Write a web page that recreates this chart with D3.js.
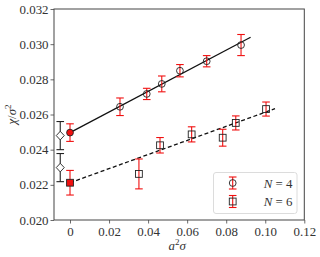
<!DOCTYPE html>
<html>
<head>
<meta charset="utf-8">
<script src="https://cdn.jsdelivr.net/npm/d3@7"></script>
<style>
  body { margin: 0; background: #fff; }
</style>
</head>
<body>
<div id="chart"></div>
<script>
// N = 4 measurements
var n4X = [0.0256, 0.0393, 0.0470, 0.0563, 0.0700, 0.0876];
var n4Y = [0.02644, 0.02717, 0.02774, 0.02849, 0.02903, 0.02995];
var n4Err = [0.00050, 0.00032, 0.00045, 0.00035, 0.00032, 0.00060];

// N = 6 measurements
var n6X = [0.0353, 0.0461, 0.0623, 0.0782, 0.0849, 0.1004];
var n6Y = [0.02262, 0.02425, 0.02487, 0.02468, 0.02552, 0.02631];
var n6Err = [0.00085, 0.00044, 0.00043, 0.00048, 0.00040, 0.00040];

// continuum extrapolations (a^2 sigma -> 0)
var extrapY = [0.02497, 0.02212];
var extrapErr = [0.00050, 0.00070];

// reference values (diamonds)
var refX = [-0.005, -0.005];
var refY = [0.02480, 0.02298];
var refErr = [0.00080, 0.00080];

// linear fits: [x start, x end, intercept, slope]
var fitN4 = [0, 0.0925, 0.02497, 0.0586];
var fitN6 = [0, 0.105, 0.02212, 0.0401];

var xTicks = [0, 0.02, 0.04, 0.06, 0.08, 0.10, 0.12];
var yTicks = [0.020, 0.022, 0.024, 0.026, 0.028, 0.030, 0.032];
var legendLabels = ["4", "6"];

var width = 320, height = 257;
var mLeft = 54, mRight = 304.3, mTop = 9, mBottom = 220;
var red = "#f01010";
var serif = "'Liberation Serif', 'DejaVu Serif', serif";

var x = d3.scaleLinear().domain([-0.0082, 0.12]).range([mLeft, mRight]);
var y = d3.scaleLinear().domain([0.020, 0.032]).range([mBottom, mTop]);

var svg = d3.select("#chart").append("svg")
    .attr("width", width)
    .attr("height", height)
    .style("font-family", serif);

// pick a font size so that "0.032" is about 29px wide, as in the original
var probe = svg.append("text").attr("font-size", 13).style("font-family", serif).text("0.032");
var fs = 13 * 29 / (probe.node().getComputedTextLength() || 29);
fs = Math.max(11, Math.min(14, fs));
probe.remove();

// axes
var xAxis = svg.append("g")
    .attr("transform", "translate(0," + mBottom + ")")
    .call(d3.axisBottom(x).tickValues(xTicks).tickSize(3.5).tickPadding(3)
      .tickFormat(function(d) { return d === 0 ? "0" : d3.format(".2f")(d); }));
var yAxis = svg.append("g")
    .attr("transform", "translate(" + mLeft + ",0)")
    .call(d3.axisLeft(y).tickValues(yTicks).tickSize(3.5).tickPadding(2)
      .tickFormat(d3.format(".3f")));
[xAxis, yAxis].forEach(function(a) {
  a.attr("font-family", null).attr("font-size", null);
  a.select(".domain").remove();
  a.selectAll("line").attr("stroke", "#444").attr("stroke-width", 0.8);
  a.selectAll("text").style("font-family", serif).attr("font-size", fs).attr("fill", "#333");
});

svg.append("rect")
    .attr("x", mLeft).attr("y", mTop)
    .attr("width", mRight - mLeft).attr("height", mBottom - mTop)
    .attr("fill", "none").attr("stroke", "#444").attr("stroke-width", 1);

// labels
var xl = svg.append("text")
    .attr("x", (mLeft + mRight) / 2 - 2).attr("y", 249.5)
    .attr("text-anchor", "middle").attr("font-size", fs).attr("fill", "#333")
    .style("font-family", serif).attr("font-style", "italic");
xl.append("tspan").text("a");
xl.append("tspan").attr("font-size", 9).attr("font-style", "normal").attr("dy", -5).text("2");
xl.append("tspan").attr("dy", 5).text("σ");

var yl = svg.append("text")
    .attr("transform", "translate(16," + ((mTop + mBottom) / 2) + ") rotate(-90)")
    .attr("text-anchor", "middle").attr("font-size", fs).attr("fill", "#333")
    .style("font-family", serif);
yl.append("tspan").attr("font-style", "italic").text("χ");
yl.append("tspan").text("/");
yl.append("tspan").attr("font-style", "italic").text("σ");
yl.append("tspan").attr("font-size", 9).attr("dy", -5).text("2");

// fit lines
var line = d3.line().x(function(d) { return x(d[0]); }).y(function(d) { return y(d[1]); });
[[fitN4, null], [fitN6, "4,2.5"]].forEach(function(f) {
  var p = f[0];
  svg.append("path")
      .attr("d", line([[p[0], p[2] + p[3] * p[0]], [p[1], p[2] + p[3] * p[1]]]))
      .attr("fill", "none").attr("stroke", "#111").attr("stroke-width", 1.3)
      .attr("stroke-dasharray", f[1]);
});

function errorBars(g, xs, ys, es, color) {
  var cap = 3.8;
  xs.forEach(function(xv, i) {
    var cx = x(xv), y0 = y(ys[i] - es[i]), y1 = y(ys[i] + es[i]);
    g.append("line").attr("x1", cx).attr("x2", cx).attr("y1", y0).attr("y2", y1)
      .attr("stroke", color).attr("stroke-width", 1.1);
    [y0, y1].forEach(function(yy) {
      g.append("line").attr("x1", cx - cap).attr("x2", cx + cap).attr("y1", yy).attr("y2", yy)
        .attr("stroke", color).attr("stroke-width", 1.1);
    });
  });
}

var g = svg.append("g");
errorBars(g, n4X, n4Y, n4Err, red);
errorBars(g, n6X, n6Y, n6Err, red);
errorBars(g, [0, 0], extrapY, extrapErr, red);
errorBars(g, refX, refY, refErr, "#222");

function circle(gg, cx, cy, fill) {
  gg.append("circle").attr("cx", cx).attr("cy", cy).attr("r", 3.4)
    .attr("fill", fill).attr("stroke", "#222").attr("stroke-width", 0.9);
}
function square(gg, cx, cy, fill) {
  gg.append("rect").attr("x", cx - 3.4).attr("y", cy - 3.4).attr("width", 6.8).attr("height", 6.8)
    .attr("fill", fill).attr("stroke", "#222").attr("stroke-width", 0.9);
}

n4X.forEach(function(xv, i) { circle(g, x(xv), y(n4Y[i]), "none"); });
n6X.forEach(function(xv, i) { square(g, x(xv), y(n6Y[i]), "none"); });
circle(g, x(0), y(extrapY[0]), red);
square(g, x(0), y(extrapY[1]), red);
refX.forEach(function(xv, i) {
  var cx = x(xv), cy = y(refY[i]);
  g.append("path")
    .attr("d", "M" + cx + "," + (cy - 4.3) + "L" + (cx + 4) + "," + cy + "L" + cx + "," + (cy + 4.3) + "L" + (cx - 4) + "," + cy + "Z")
    .attr("fill", "#fff").attr("stroke", "#222").attr("stroke-width", 0.9);
});

// legend
var lg = svg.append("g");
lg.append("rect").attr("x", 213.5).attr("y", 172.5).attr("width", 83.5).attr("height", 41)
  .attr("rx", 2.5).attr("fill", "#fff").attr("fill-opacity", 0.8)
  .attr("stroke", "#d8d8d8").attr("stroke-width", 0.9);
legendLabels.forEach(function(lab, i) {
  var cy = 183 + i * 18.5, cx = 232.7;
  lg.append("line").attr("x1", cx).attr("x2", cx).attr("y1", cy - 6).attr("y2", cy + 6)
    .attr("stroke", red).attr("stroke-width", 1.1);
  [cy - 6, cy + 6].forEach(function(yy) {
    lg.append("line").attr("x1", cx - 3.8).attr("x2", cx + 3.8).attr("y1", yy).attr("y2", yy)
      .attr("stroke", red).attr("stroke-width", 1.1);
  });
  if (i === 0) circle(lg, cx, cy, "none"); else square(lg, cx, cy, "none");
  var t = lg.append("text").attr("x", 292.5).attr("y", cy + 4.5)
    .attr("text-anchor", "end").attr("font-size", fs).attr("fill", "#333")
    .style("font-family", serif);
  t.append("tspan").attr("font-style", "italic").text("N");
  t.append("tspan").text(" = " + lab);
});
</script>
</body>
</html>
